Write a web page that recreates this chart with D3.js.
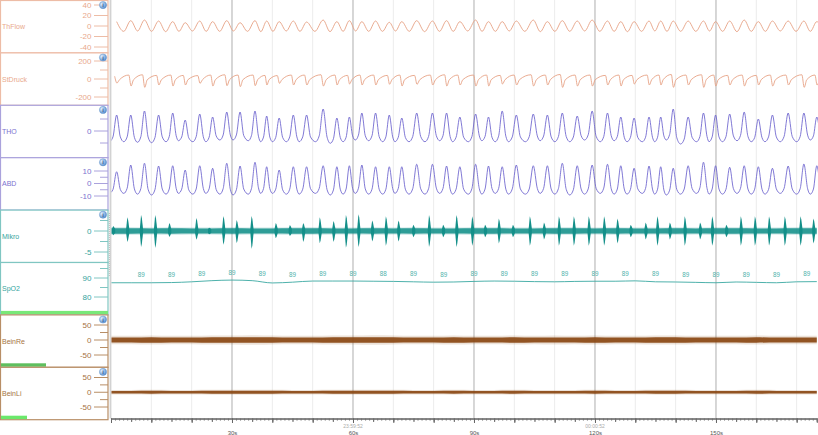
<!DOCTYPE html>
<html>
<head>
<meta charset="utf-8">
<script src="https://cdn.jsdelivr.net/npm/d3@7"></script>
<style>
  body { margin: 0; background: #fff; }
  svg { display: block; font-family: "Liberation Sans", Arial, sans-serif; }
</style>
</head>
<body>
<div id="graphic"></div>
<script>
// ---- data (time in seconds) ----
var breathT = [1.4, 4.9, 8.3, 11.8, 15.3, 18.4, 22.0, 25.2, 28.7, 32.0, 35.7, 38.6, 41.7, 45.2, 48.5, 52.6, 56.0,
  59.1, 62.2, 65.6, 69.0, 72.1, 75.8, 79.7, 83.2, 86.5, 90.4, 93.6, 97.0, 100.5, 104.7, 108.2, 111.9, 115.6,
  119.3, 123.1, 126.4, 129.7, 133.4, 136.3, 139.4, 143.1, 146.9, 149.9, 153.4, 157.0, 160.5, 164.0, 167.9, 171.8, 175.0];

var thflowPeak = [8.3, 10.2, 11.4, 9.5, 8.3, 6.3, 9.5, 8.3, 10.2, 6.3, 10.2, 9.5, 8.3, 9.5, 7.6, 11.4, 8.3, 10.2, 8.3,
  9.5, 7, 8.3, 10.2, 9.5, 10.2, 8.3, 11.4, 8.3, 8.3, 9.5, 11.4, 8.3, 10.2, 9.5, 11.4, 9.5, 8.3, 8.3, 9.5, 9.5, 9.5,
  9.5, 9.5, 8.3, 9.5, 11.4, 8.3, 9.5, 9.5, 9.5, 8.3];
var thflowTrough = [-10.2, -9.5, -10.2, -10.8, -10.2, -9.5, -10.2, -10.2, -9.5, -10.2, -10.8, -10.2, -9.5, -10.2, -10.2,
  -10.8, -10.2, -9.5, -10.2, -10.2, -9.5, -10.2, -10.8, -10.2, -10.2, -9.5, -10.2, -10.2, -9.5, -10.2, -10.8, -10.2,
  -10.2, -9.5, -10.2, -10.2, -10.8, -10.2, -9.5, -10.2, -10.2, -10.2, -9.5, -10.2, -10.8, -10.2, -10.2, -9.5, -10.2, -10.2, -10.2];

var stdruckPeak = [30, 44, 47, 40, 44, 40, 38, 44, 47, 44, 44, 40, 38, 44, 44, 47, 44, 40, 44, 44, 40, 44, 40, 44, 47,
  44, 44, 44, 40, 44, 47, 44, 50, 44, 44, 40, 44, 40, 44, 44, 50, 44, 47, 44, 40, 44, 40, 44, 44, 47, 44];
var stdruckTrough = [-45, -78, -93, -67, -78, -67, -48, -78, -74, -85, -74, -67, -48, -67, -67, -78, -67, -56, -67, -67,
  -59, -78, -59, -67, -78, -67, -78, -78, -56, -67, -78, -67, -93, -78, -78, -67, -78, -56, -67, -67, -93, -67, -93,
  -78, -67, -78, -67, -78, -67, -93, -67];

var thoPeak = [16, 16, 20, 16, 18, 11, 17, 14, 19, 19, 20, 15, 13, 16, 16, 22, 13, 14, 18, 18, 16, 13, 18, 18, 18, 14,
  17, 14, 20, 16, 17, 16, 18, 15, 20, 18, 14, 13, 14, 14, 22, 14, 18, 16, 17, 19, 12, 16, 18, 18, 14];
var thoTrough = [-10.7, -11.3, -11.7, -10.7, -9.7, -10.7, -10.7, -9, -9, -9.7, -10.7, -10.7, -10.7, -10.7, -10.7, -12.3,
  -10.7, -9, -9.7, -10.7, -10.7, -10.7, -10.7, -9.7, -10.7, -10.7, -9.7, -10.7, -10.7, -10.7, -9.7, -10.7, -10.7, -9,
  -10.7, -9.7, -10.7, -10.7, -10.7, -9, -13, -10.7, -10.7, -10.7, -9.7, -10.7, -10.7, -10.7, -10.7, -9, -10.7];

var abdPeak = [9.4, 14.8, 16.2, 14, 14.2, 10.8, 14.2, 12.2, 16.2, 14, 17, 13.4, 10.8, 13.4, 13.4, 14.2, 13.4, 14.2, 14.8,
  13.4, 13.4, 13.4, 15.4, 15.4, 14, 13.4, 15.4, 14, 13.4, 14.8, 14.2, 14.2, 16.2, 14.2, 14.8, 15.4, 14.2, 12.2, 14,
  13.4, 12.2, 14.2, 17, 14.2, 13, 14.2, 13.4, 12.2, 14, 15.6, 14.2];
var abdTrough = [-7.9, -8.5, -9.2, -8.5, -7.9, -8.5, -7.9, -8.5, -9.2, -8.5, -7.9, -7.9, -8.5, -8.5, -7.9, -9.2, -8.5,
  -7.9, -8.5, -8.5, -7.9, -8.5, -8.5, -7.9, -8.5, -8.5, -8.5, -7.9, -8.5, -8.5, -7.9, -8.5, -9.2, -8.5, -7.9, -8.5,
  -8.5, -7.9, -8.5, -9.2, -8.5, -7.9, -8.5, -8.5, -7.9, -8.5, -8.5, -7.9, -8.5, -8.5, -8.5];

// snoring bursts, one per breath (0 = none)
var mikroTop = [1.2, 3.3, 3.8, 3.8, 1.9, 0, 3.1, 0.8, 3.6, 2.6, 3.6, 0, 1.9, 1.4, 1.9, 3.3, 2.4, 3.8, 4.0, 2.5, 3.5,
  2.5, 1.5, 3.8, 1.5, 3.8, 3.5, 1.5, 3.0, 1.5, 3.5, 2.0, 3.5, 3.5, 3.5, 3.5, 3.0, 1.5, 2.0, 3.5, 2.0, 3.5, 2.0, 3.5,
  1.5, 3.5, 3.5, 3.5, 3.5, 3.5, 3.0];
var mikroBot = [-1.0, -2.6, -3.8, -4.0, -1.4, 0, -2.1, -0.8, -3.3, -2.9, -4.3, 0, -1.7, -1.2, -2.6, -2.9, -2.6, -4.0,
  -3.8, -2.5, -3.5, -2.5, -1.5, -3.8, -1.5, -3.8, -3.5, -1.5, -3.0, -1.5, -3.5, -2.0, -3.5, -3.5, -3.5, -3.5, -3.0,
  -1.5, -2.0, -3.5, -2.0, -3.5, -2.0, -3.5, -1.5, -3.5, -3.5, -3.5, -3.5, -3.5, -3.0];

// 5 s grid
var gridT = d3.range(0, 176, 5);
var mikroBase = [0.65, 0.65, 0.6, 0.65, 0.6, 0.6, 0.65, 0.6, 0.6, 0.65, 0.65, 0.6, 0.6, 0.65, 0.6, 0.65, 0.6, 0.6,
  0.65, 0.65, 0.6, 0.6, 0.65, 0.65, 0.6, 0.65, 0.6, 0.6, 0.65, 0.6, 0.65, 0.65, 0.6, 0.6, 0.65, 0.65];
var spo2 = [87.5, 87.5, 87.5, 87.6, 88.0, 88.6, 88.9, 88.6, 87.4, 87.8, 88.4, 88.4, 88.4, 88.3, 88.2, 88.0, 87.8, 87.9,
  88.2, 88.4, 88.3, 88.1, 88.0, 88.2, 88.3, 88.3, 88.5, 88.0, 87.9, 87.7, 87.5, 87.9, 87.7, 87.5, 88.0, 88.1];
var beinReCore = [8, 8, 9, 8, 8, 9, 9, 9.5, 9, 8, 8, 9, 9, 9.5, 9, 8, 8, 9, 8, 8, 9, 8, 8, 8, 9, 8, 8, 9, 9,
  8, 8, 8, 9, 8, 8, 8];
var beinReFringe = [14, 14, 15, 14, 14, 15, 15, 16, 15, 14, 14, 15, 15, 16, 15, 14, 14, 15, 14, 14, 15, 14, 15, 14,
  15, 14, 14, 15, 15, 14, 14, 14, 15, 14, 14, 14];
var beinLiCore = [4.5, 4.5, 5, 4.5, 4.5, 5, 5, 5, 5, 4.5, 4.5, 5, 5, 5, 5, 4.5, 4.5, 5, 4.5, 4.5, 5, 4.5, 4.5, 4.5, 5,
  4.5, 4.5, 5, 5, 4.5, 4.5, 4.5, 5, 4.5, 4.5, 4.5];
var beinLiFringe = [8, 8, 8.5, 8, 8, 8.5, 8.5, 8.5, 8.5, 8, 8, 8.5, 8.5, 8.5, 8.5, 8, 8, 8.5, 8, 8, 8.5, 8, 8, 8, 8.5,
  8, 8, 8.5, 8.5, 8, 8, 8, 8.5, 8, 8, 8];

var spo2Labels = ["89", "89", "89", "89", "89", "89", "89", "89", "88", "89", "89", "89", "89", "89", "89", "89",
  "89", "89", "89", "89", "89", "89", "89"];
var spo2LabelT = d3.range(1, 24).map(function(k) { return k * 7.5; });

var timeLabels = [30, 60, 90, 120, 150];
var clockLabels = [{t: 60, text: "23:59:52"}, {t: 120, text: "00:00:52"}];

// ---- channels ----
var channels = [
  {name: "ThFlow", ref: [[40, 5], [-40, 47]], ticks: [40, 20, 0, -20, -40], labels: [40, 20, 0, -20, -40],
    line: "#e6a184", text: "#e9a98c", border: "#edbca6", icon: true},
  {name: "StDruck", ref: [[200, 61], [-200, 97]], ticks: [200, 100, 0, -100, -200], labels: [200, 0, -200],
    line: "#e6a184", text: "#e9a98c", border: "#edbca6", icon: true},
  {name: "THO", ref: [[0, 131], [20, 111]], ticks: [12, 0, -12], labels: [0],
    line: "#6a61cd", text: "#7c72cf", border: "#aaa2dc", icon: true},
  {name: "ABD", ref: [[10, 171], [-10, 196]], ticks: [10, 5, 0, -5, -10], labels: [10, 0, -10],
    line: "#6a61cd", text: "#7c72cf", border: "#aaa2dc", icon: true},
  {name: "Mikro", ref: [[0, 231], [-5, 252]], ticks: [2.5, 0, -2.5, -5], labels: [0, -5],
    line: "#138f89", text: "#35a49e", border: "#80c6c2", icon: true},
  {name: "SpO2", ref: [[90, 278], [80, 297]], ticks: [95, 90, 85, 80], labels: [90, 80],
    line: "#3aa8a2", text: "#35a49e", border: "#80c6c2", icon: false, bar: {w: 107, c: "#78e878"}},
  {name: "BeinRe", ref: [[50, 325], [-50, 355]], ticks: [50, 25, 0, -25, -50], labels: [50, 0, -50],
    line: "#8a4814", text: "#a6733f", border: "#b88e66", icon: true, bar: {w: 45, c: "#5fbf5f"}},
  {name: "BeinLi", ref: [[50, 377.5], [-50, 407]], ticks: [50, 25, 0, -25, -50], labels: [50, 0, -50],
    line: "#8a4814", text: "#a6733f", border: "#b88e66", icon: true, bar: {w: 26, c: "#6be86b"}}
];

var width = 818, height = 435;
var panelTop = 0.5, panelH = 52.4, leftW = 108;
var axisY = 418.5;

var x = d3.scaleLinear().domain([0, 175]).range([111, 816.8]);

channels.forEach(function(ch, i) {
  ch.top = panelTop + i * panelH;
  ch.y = d3.scaleLinear().domain([ch.ref[0][0], ch.ref[1][0]]).range([ch.ref[0][1], ch.ref[1][1]]);
});

var svg = d3.select("#graphic").append("svg")
  .attr("width", width)
  .attr("height", height);

var defs = svg.append("defs");
var grad = defs.append("radialGradient").attr("id", "iconGrad").attr("cx", "35%").attr("cy", "35%").attr("r", "70%");
grad.append("stop").attr("offset", "0%").attr("stop-color", "#e4f2ff");
grad.append("stop").attr("offset", "100%").attr("stop-color", "#4f88cc");

// ---- grid ----
var grid = svg.append("g").attr("class", "grid");
d3.range(10, 176, 10).forEach(function(t) {
  var major = t % 30 === 0;
  grid.append("line")
    .attr("x1", x(t)).attr("x2", x(t))
    .attr("y1", 0).attr("y2", axisY)
    .attr("stroke", major ? "#cdcdcd" : "#ececec")
    .attr("stroke-width", major ? 1.6 : 1);
});
grid.append("line")
  .attr("x1", 110.5).attr("x2", 110.5).attr("y1", 0).attr("y2", axisY)
  .attr("stroke", "#d2d2d2").attr("stroke-width", 1.8);

// ---- left label panels ----
var left = svg.append("g").attr("class", "labels");
channels.forEach(function(ch) {
  left.append("rect")
    .attr("x", 0.5).attr("y", ch.top)
    .attr("width", leftW - 0.5).attr("height", panelH)
    .attr("fill", "#fff")
    .attr("stroke", ch.border).attr("stroke-width", 1.2);

  left.append("text")
    .attr("x", 2).attr("y", ch.top + panelH / 2)
    .attr("dominant-baseline", "central")
    .attr("font-size", "7px")
    .attr("fill", ch.text)
    .text(ch.name);

  ch.ticks.forEach(function(v) {
    var major = ch.labels.indexOf(v) >= 0;
    left.append("line")
      .attr("x1", major ? 94 : 100).attr("x2", leftW)
      .attr("y1", ch.y(v)).attr("y2", ch.y(v))
      .attr("stroke", ch.border).attr("stroke-width", 1);
  });
  ch.labels.forEach(function(v) {
    left.append("text")
      .attr("x", 91.5).attr("y", ch.y(v))
      .attr("text-anchor", "end")
      .attr("dominant-baseline", "central")
      .attr("font-size", "8px")
      .attr("fill", ch.text)
      .text(v);
  });

  if (ch.bar) {
    left.append("rect")
      .attr("x", 1).attr("y", ch.top + panelH - 4)
      .attr("width", ch.bar.w).attr("height", 3.4)
      .attr("fill", ch.bar.c);
  }
  if (ch.icon) {
    var ic = left.append("g").attr("transform", "translate(103," + (ch.top + 4.6) + ")");
    ic.append("circle").attr("r", 3.6).attr("fill", "url(#iconGrad)").attr("stroke", "#6a98cc").attr("stroke-width", 0.5);
    ic.append("text").attr("y", 2).attr("text-anchor", "middle")
      .attr("font-size", "5.5px").attr("font-weight", "bold").attr("fill", "#2a4f88").text("i");
  }
});

// small ruler next to Mikro / SpO2
left.append("line")
  .attr("x1", 109.3).attr("x2", 109.3).attr("y1", 213).attr("y2", 277)
  .attr("stroke", "#b8b8b8").attr("stroke-dasharray", "1,1");

// ---- signals ----
function period(i) {
  var n = breathT.length;
  if (i === 0) return breathT[1] - breathT[0];
  if (i === n - 1) return breathT[n - 1] - breathT[n - 2];
  return (breathT[i + 1] - breathT[i - 1]) / 2;
}

function clipFor(ch, id) {
  defs.append("clipPath").attr("id", id)
    .append("rect").attr("x", 111.5).attr("y", ch.top + 0.5)
    .attr("width", width - 111.5).attr("height", panelH - 1);
  return "url(#" + id + ")";
}

var plot = svg.append("g").attr("class", "signals");

function drawLine(ch, pts, id, w) {
  var line = d3.line()
    .x(function(d) { return x(d[0]); })
    .y(function(d) { return ch.y(d[1]); })
    .curve(d3.curveMonotoneX);
  plot.append("path")
    .attr("clip-path", clipFor(ch, id))
    .attr("d", line(pts))
    .attr("fill", "none")
    .attr("stroke", ch.line)
    .attr("stroke-width", w || 0.9);
}

// ThFlow: smooth oscillation
var flowPts = [];
breathT.forEach(function(t, i) {
  flowPts.push([t, thflowPeak[i]]);
  var next = i < breathT.length - 1 ? breathT[i + 1] : t + period(i);
  flowPts.push([(t + next) / 2, thflowTrough[i]]);
});
drawLine(channels[0], flowPts, "c0");

// StDruck: slow rise then sharp drop on each breath
var drPts = [];
breathT.forEach(function(t, i) {
  var p = period(i);
  drPts.push([t - 0.14 * p, stdruckPeak[i]]);
  drPts.push([t + 0.02 * p, stdruckTrough[i]]);
  drPts.push([t + 0.2 * p, -8]);
});
drawLine(channels[1], drPts, "c1");

// THO / ABD: narrow peaks, rounded troughs
function effortPts(peaks, troughs) {
  var pts = [];
  breathT.forEach(function(t, i) {
    var p = period(i);
    var prevT = i > 0 ? troughs[i - 1] : troughs[0];
    pts.push([t - 0.5 * p, prevT]);
    pts.push([t - 0.26 * p, prevT + 0.18 * (peaks[i] - prevT)]);
    pts.push([t, peaks[i]]);
    pts.push([t + 0.26 * p, troughs[i] + 0.18 * (peaks[i] - troughs[i])]);
  });
  return pts;
}
drawLine(channels[2], effortPts(thoPeak, thoTrough), "c2", 0.85);
drawLine(channels[3], effortPts(abdPeak, abdTrough), "c3", 0.85);

// noise bands
function band(ch, amp, opacity, clip) {
  var area = d3.area()
    .x(function(d, k) { return x(gridT[k]); })
    .y0(function(d) { return ch.y(-d); })
    .y1(function(d) { return ch.y(d); })
    .curve(d3.curveMonotoneX);
  plot.append("path")
    .attr("clip-path", clip)
    .attr("d", area(amp))
    .attr("fill", ch.line)
    .attr("fill-opacity", opacity);
}

// Mikro
var mk = channels[4];
var mkClip = clipFor(mk, "c4");
band(mk, mikroBase.map(function(v) { return v * 1.4; }), 0.22, mkClip);
band(mk, mikroBase, 0.85, mkClip);
var burstLine = d3.line()
  .x(function(d) { return x(d[0]); })
  .y(function(d) { return mk.y(d[1]); });
breathT.forEach(function(t, i) {
  if (!mikroTop[i]) return;
  var tb = t - 0.75, up = mikroTop[i], dn = mikroBot[i];
  var pts = [[tb - 0.4, 0.5], [tb - 0.1, up], [tb + 0.1, up * 0.8], [tb + 0.4, 0.5],
             [tb + 0.4, -0.5], [tb + 0.1, dn * 0.8], [tb - 0.1, dn], [tb - 0.4, -0.5]];
  plot.append("path")
    .attr("clip-path", mkClip)
    .attr("d", burstLine(pts) + "Z")
    .attr("fill", mk.line);
});

// SpO2
var sp = channels[5];
drawLine(sp, gridT.map(function(t, k) { return [t, spo2[k]]; }), "c5");
function spo2At(t) {
  var k = Math.min(Math.floor(t / 5), spo2.length - 2);
  var f = (t - gridT[k]) / 5;
  return spo2[k] + (spo2[k + 1] - spo2[k]) * f;
}
plot.selectAll("text.spo2")
  .data(spo2Labels)
  .enter().append("text")
  .attr("class", "spo2")
  .attr("x", function(d, i) { return x(spo2LabelT[i]); })
  .attr("y", function(d, i) { return sp.y(spo2At(spo2LabelT[i])) - 5.5; })
  .attr("text-anchor", "middle")
  .attr("font-size", "6.3px")
  .attr("fill", "#4fb2ab")
  .text(function(d) { return d; });

// legs
var re = channels[6], li = channels[7];
var reClip = clipFor(re, "c6"), liClip = clipFor(li, "c7");
band(re, beinReFringe, 0.16, reClip);
band(re, beinReCore, 0.92, reClip);
band(li, beinLiFringe, 0.16, liClip);
band(li, beinLiCore, 0.92, liClip);

// ---- time axis ----
function ticks(step, size) {
  var g = svg.append("g")
    .attr("transform", "translate(0," + axisY + ")")
    .call(d3.axisBottom(x).tickValues(d3.range(0, 176, step)).tickSize(size).tickFormat(""));
  g.selectAll("line").attr("stroke", "#666");
  g.select(".domain").attr("stroke", "#777");
  return g;
}
ticks(1, 2);
ticks(5, 3.5);
ticks(10, 4.5);

var lab = svg.append("g")
  .attr("transform", "translate(0," + axisY + ")")
  .call(d3.axisBottom(x).tickValues(timeLabels).tickSize(0).tickPadding(12.5)
    .tickFormat(function(d) { return d + "s"; }));
lab.select(".domain").remove();
lab.selectAll("text").attr("font-size", "6px").attr("fill", "#555").attr("font-family", "Liberation Sans, Arial, sans-serif");

svg.selectAll("text.clock")
  .data(clockLabels)
  .enter().append("text")
  .attr("class", "clock")
  .attr("x", function(d) { return x(d.t); })
  .attr("y", 428.4)
  .attr("text-anchor", "middle")
  .attr("font-size", "5px")
  .attr("fill", "#aaa")
  .text(function(d) { return d.text; });
</script>
</body>
</html>
